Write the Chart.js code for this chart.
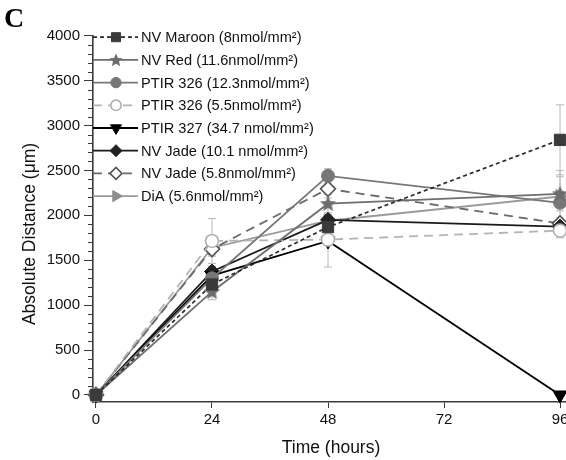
<!DOCTYPE html>
<html>
<head>
<meta charset="utf-8">
<script src="https://cdn.jsdelivr.net/npm/chart.js@4/dist/chart.umd.min.js"></script>
<style>
html,body{margin:0;padding:0;background:#fff;}
#wrap{width:566px;height:460px;position:relative;}
</style>
</head>
<body>
<div id="wrap"><canvas id="c" width="566" height="460"></canvas></div>
<script>
// ---- data ----
const hours = [0, 24, 48, 96];
const xTickValues = [0, 24, 48, 72, 96];
const yTickValues = [0, 500, 1000, 1500, 2000, 2500, 3000, 3500, 4000];
const seriesNames = [
  'NV Maroon (8nmol/mm\u00B2)',
  'NV Red (11.6nmol/mm\u00B2)',
  'PTIR 326 (12.3nmol/mm\u00B2)',
  'PTIR 326 (5.5nmol/mm\u00B2)',
  'PTIR 327 (34.7 nmol/mm\u00B2)',
  'NV Jade (10.1 nmol/mm\u00B2)',
  'NV Jade (5.8nmol/mm\u00B2)',
  'DiA (5.6nmol/mm\u00B2)'
];
const nvMaroon   = [0, 1230, 1870, 2840];
const nvRed      = [0, 1150, 2130, 2240];
const ptir326hi  = [0, 1300, 2440, 2140];
const ptir326lo  = [0, 1715, 1730, 1830];
const ptir327    = [0, 1330, 1715, 0];
const nvJadeHi   = [0, 1375, 1950, 1875];
const nvJadeLo   = [0, 1625, 2295, 1910];
const dia        = [0, 1640, 1940, 2210];
const nvMaroonErr  = [0, 110, 60, 390];
const nvRedErr     = [0, 90, 100, 190];
const ptir326hiErr = [0, 80, 80, 360];
const ptir326loErr = [0, 250, 60, 80];
const ptir327Err   = [0, 100, 290, 0];
const nvJadeHiErr  = [0, 60, 60, 60];
const nvJadeLoErr  = [0, 80, 100, 60];
const diaErr       = [0, 80, 60, 60];
const xTitle = 'Time (hours)';
const yTitle = 'Absolute Distance (\u03BCm)';
const panelLabel = 'C';

// ---- styling helpers ----
function makeStar(color, r) {
  const s = Math.ceil(r * 2 + 2);
  const cv = document.createElement('canvas');
  cv.width = s; cv.height = s;
  const g = cv.getContext('2d');
  g.fillStyle = color;
  g.beginPath();
  const cx = s / 2, cy = s / 2 + 0.5;
  for (let i = 0; i < 10; i++) {
    const rr = i % 2 === 0 ? r : r * 0.45;
    const a = -Math.PI / 2 + i * Math.PI / 5;
    const px = cx + rr * Math.cos(a), py = cy + rr * Math.sin(a);
    if (i === 0) g.moveTo(px, py); else g.lineTo(px, py);
  }
  g.closePath();
  g.fill();
  return cv;
}
const starImg = makeStar('#6c6c6c', 8.5);
const starLegend = makeStar('#6c6c6c', 7);

const styles = [
  {data: nvMaroon, err: nvMaroonErr, line: '#2a2a2a', width: 1.7, dash: [4, 3], ps: 'rect', rot: 0, r: 8, fill: '#3a3a3a', stroke: '#3a3a3a', bw: 1},
  {data: nvRed, err: nvRedErr, line: '#6e6e6e', width: 1.8, dash: [], ps: starImg, rot: 0, r: 8, fill: '#6c6c6c', stroke: '#6c6c6c', bw: 1},
  {data: ptir326hi, err: ptir326hiErr, line: '#777777', width: 1.8, dash: [], ps: 'circle', rot: 0, r: 6.5, fill: '#777777', stroke: '#777777', bw: 1},
  {data: ptir326lo, err: ptir326loErr, line: '#b4b4b4', width: 1.8, dash: [9, 6], ps: 'circle', rot: 0, r: 6.5, fill: '#ffffff', stroke: '#b0b0b0', bw: 1.6},
  {data: ptir327, err: ptir327Err, line: '#000000', width: 1.8, dash: [], ps: 'triangle', rot: 180, r: 8, fill: '#000000', stroke: '#000000', bw: 1},
  {data: nvJadeHi, err: nvJadeHiErr, line: '#1a1a1a', width: 1.8, dash: [], ps: 'rectRot', rot: 0, r: 7.5, fill: '#222222', stroke: '#222222', bw: 1},
  {data: nvJadeLo, err: nvJadeLoErr, line: '#6a6a6a', width: 1.8, dash: [9, 6], ps: 'rectRot', rot: 0, r: 7.5, fill: '#ffffff', stroke: '#555555', bw: 1.6},
  {data: dia, err: diaErr, line: '#9a9a9a', width: 1.8, dash: [], ps: 'triangle', rot: 90, r: 8, fill: '#8c8c8c', stroke: '#8c8c8c', bw: 1}
];

const datasets = styles.map((s, i) => ({
  label: seriesNames[i],
  data: hours.map((h, k) => ({x: h, y: s.data[k]})),
  errors: s.err,
  borderColor: s.line,
  borderWidth: s.width,
  borderDash: s.dash,
  backgroundColor: s.fill,
  pointStyle: s.ps,
  legendStyle: s.ps === starImg ? starLegend : s.ps,
  pointRotation: s.rot,
  pointRadius: s.r,
  pointBackgroundColor: s.fill,
  pointBorderColor: s.stroke,
  pointBorderWidth: s.bw,
  pointHoverRadius: s.r,
  tension: 0,
  fill: false,
  clip: false
}));

const AXIS = '#3a3a3a';
const TICKFONT = {family: 'Liberation Sans, Arial, sans-serif', size: 15};

const decor = {
  id: 'decor',
  beforeDatasetsDraw(chart) {
    const ctx = chart.ctx;
    const xs = chart.scales.x, ys = chart.scales.y;
    ctx.save();
    ctx.strokeStyle = '#b8b8b8';
    ctx.lineWidth = 1;
    chart.data.datasets.forEach(ds => {
      ds.data.forEach((p, k) => {
        const e = ds.errors[k];
        if (!e) return;
        const px = xs.getPixelForValue(p.x);
        const y1 = ys.getPixelForValue(p.y - e), y2 = ys.getPixelForValue(p.y + e);
        ctx.beginPath();
        ctx.moveTo(px, y1); ctx.lineTo(px, y2);
        ctx.moveTo(px - 4, y1); ctx.lineTo(px + 4, y1);
        ctx.moveTo(px - 4, y2); ctx.lineTo(px + 4, y2);
        ctx.stroke();
      });
    });
    ctx.restore();
  },
  afterDraw(chart) {
    const ctx = chart.ctx;
    const xs = chart.scales.x, ys = chart.scales.y;
    const area = chart.chartArea;
    ctx.save();
    // minor y ticks
    ctx.strokeStyle = AXIS;
    ctx.lineWidth = 1;
    for (let v = 100; v < 4000; v += 100) {
      if (v % 500 === 0) continue;
      const py = Math.round(ys.getPixelForValue(v)) + 0.5;
      ctx.beginPath();
      ctx.moveTo(area.left - 5, py); ctx.lineTo(area.left, py);
      ctx.stroke();
    }
    // legend
    const lx0 = area.left, lx1 = area.left + 45, mx = area.left + 23, tx = area.left + 48;
    const top = ys.getPixelForValue(4000) + 1.5, step = 22.7;
    ctx.font = '14.6px "Liberation Sans", Arial, sans-serif';
    ctx.textBaseline = 'middle';
    ctx.textAlign = 'left';
    chart.data.datasets.forEach((ds, i) => {
      const y = top + i * step;
      ctx.save();
      ctx.strokeStyle = ds.borderColor;
      ctx.lineWidth = ds.borderWidth;
      ctx.setLineDash(ds.borderDash);
      ctx.beginPath();
      ctx.moveTo(lx0, y); ctx.lineTo(lx1, y);
      ctx.stroke();
      ctx.restore();
      ctx.save();
      ctx.fillStyle = ds.pointBackgroundColor;
      ctx.strokeStyle = ds.pointBorderColor;
      ctx.lineWidth = ds.pointBorderWidth;
      Chart.helpers.drawPoint(ctx, {pointStyle: ds.legendStyle, rotation: ds.pointRotation, radius: ds.pointRadius * 0.8, borderWidth: ds.pointBorderWidth}, mx, y);
      ctx.restore();
      ctx.fillStyle = '#111';
      ctx.fillText(ds.label, tx, y + 1);
    });
    // axis titles
    ctx.fillStyle = '#111';
    ctx.font = '17.5px "Liberation Sans", Arial, sans-serif';
    ctx.textAlign = 'center';
    ctx.textBaseline = 'middle';
    ctx.fillText(xTitle, 331, 448);
    ctx.save();
    ctx.translate(30, 234);
    ctx.rotate(-Math.PI / 2);
    ctx.fillText(yTitle, 0, 0);
    ctx.restore();
    // panel label
    ctx.font = 'bold 28px "Liberation Serif", "Times New Roman", serif';
    ctx.textAlign = 'left';
    ctx.textBaseline = 'alphabetic';
    ctx.fillStyle = '#000';
    ctx.fillText(panelLabel, 4, 27);
    ctx.restore();
  }
};

new Chart(document.getElementById('c'), {
  type: 'line',
  data: {datasets},
  options: {
    responsive: false,
    animation: false,
    events: [],
    layout: {autoPadding: false, padding: {top: 35.7, right: 0, left: 0, bottom: 0}},
    plugins: {legend: {display: false}, tooltip: {enabled: false}},
    scales: {
      x: {
        type: 'linear',
        min: -0.62, max: 97.24,
        afterBuildTicks: s => { s.ticks = xTickValues.map(v => ({value: v})); },
        afterFit: s => { s.height = 58; s.paddingLeft = 0; s.paddingRight = 0; },
        grid: {drawOnChartArea: false, drawTicks: true, tickLength: 6, tickColor: AXIS, tickWidth: 1},
        border: {display: true, color: AXIS, width: 1.6},
        ticks: {color: '#111', font: TICKFONT, padding: 3, maxRotation: 0, autoSkip: false, callback: v => String(v)}
      },
      y: {
        type: 'linear',
        min: -78, max: 4000,
        afterBuildTicks: s => { s.ticks = yTickValues.map(v => ({value: v})); },
        afterFit: s => { s.width = 93; s.paddingTop = 0; s.paddingBottom = 0; },
        grid: {drawOnChartArea: false, drawTicks: true, tickLength: 9, tickColor: AXIS, tickWidth: 1},
        border: {display: true, color: AXIS, width: 1.6},
        ticks: {color: '#111', font: TICKFONT, padding: 4, autoSkip: false, callback: v => String(v)}
      }
    }
  },
  plugins: [decor]
});
</script>
</body>
</html>
